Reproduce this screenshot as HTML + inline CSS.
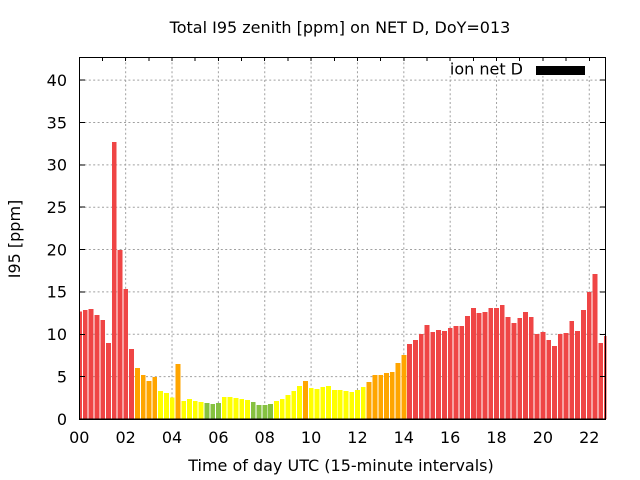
<!DOCTYPE html>
<html>
<head>
<meta charset="utf-8">
<style>
html,body{margin:0;padding:0;background:#fff;}
svg{display:block;}
text{font-family:"DejaVu Sans","Liberation Sans",sans-serif;font-size:16px;fill:#000;}
</style>
</head>
<body>
<svg width="640" height="480" viewBox="0 0 640 480" xmlns="http://www.w3.org/2000/svg">
<defs>
<clipPath id="plot"><rect x="79.5" y="57" width="527" height="362"/></clipPath>
</defs>
<rect x="0" y="0" width="640" height="480" fill="#fff"/>
<g stroke="#a0a0a0" stroke-width="1" stroke-dasharray="2,2.4" fill="none">
<line x1="80" y1="376.64" x2="605" y2="376.64"/>
<line x1="80" y1="334.28" x2="605" y2="334.28"/>
<line x1="80" y1="291.92" x2="605" y2="291.92"/>
<line x1="80" y1="249.56" x2="605" y2="249.56"/>
<line x1="80" y1="207.2" x2="605" y2="207.2"/>
<line x1="80" y1="164.84" x2="605" y2="164.84"/>
<line x1="80" y1="122.48" x2="605" y2="122.48"/>
<line x1="80" y1="80.12" x2="605" y2="80.12"/>
<line x1="125.66" y1="58" x2="125.66" y2="419"/>
<line x1="172.02" y1="58" x2="172.02" y2="419"/>
<line x1="218.38" y1="58" x2="218.38" y2="419"/>
<line x1="264.74" y1="58" x2="264.74" y2="419"/>
<line x1="311.1" y1="58" x2="311.1" y2="419"/>
<line x1="357.46" y1="58" x2="357.46" y2="419"/>
<line x1="403.82" y1="58" x2="403.82" y2="419"/>
<line x1="450.18" y1="58" x2="450.18" y2="419"/>
<line x1="496.54" y1="58" x2="496.54" y2="419"/>
<line x1="542.9" y1="58" x2="542.9" y2="419"/>
<line x1="589.26" y1="58" x2="589.26" y2="419"/>
</g>
<rect x="440" y="58" width="165" height="18" fill="#fff"/>
<g clip-path="url(#plot)">
<g transform="translate(77.1,419) scale(5.792,-8.4725)" shape-rendering="crispEdges">
<g fill="#ef4545">
<rect x="0" y="0" width="0.83" height="12.67"/>
<rect x="1" y="0" width="0.83" height="12.87"/>
<rect x="2" y="0" width="0.83" height="12.99"/>
<rect x="3" y="0" width="0.83" height="12.28"/>
<rect x="4" y="0" width="0.83" height="11.69"/>
<rect x="5" y="0" width="0.83" height="8.97"/>
<rect x="6" y="0" width="0.83" height="32.7"/>
<rect x="7" y="0" width="0.83" height="19.95"/>
<rect x="8" y="0" width="0.83" height="15.35"/>
<rect x="9" y="0" width="0.83" height="8.26"/>
<rect x="57" y="0" width="0.83" height="8.85"/>
<rect x="58" y="0" width="0.83" height="9.33"/>
<rect x="59" y="0" width="0.83" height="10.04"/>
<rect x="60" y="0" width="0.83" height="11.1"/>
<rect x="61" y="0" width="0.83" height="10.27"/>
<rect x="62" y="0" width="0.83" height="10.51"/>
<rect x="63" y="0" width="0.83" height="10.39"/>
<rect x="64" y="0" width="0.83" height="10.74"/>
<rect x="65" y="0" width="0.83" height="10.98"/>
<rect x="66" y="0" width="0.83" height="10.98"/>
<rect x="67" y="0" width="0.83" height="12.16"/>
<rect x="68" y="0" width="0.83" height="13.1"/>
<rect x="69" y="0" width="0.83" height="12.51"/>
<rect x="70" y="0" width="0.83" height="12.63"/>
<rect x="71" y="0" width="0.83" height="13.1"/>
<rect x="72" y="0" width="0.83" height="13.1"/>
<rect x="73" y="0" width="0.83" height="13.46"/>
<rect x="74" y="0" width="0.83" height="12.04"/>
<rect x="75" y="0" width="0.83" height="11.33"/>
<rect x="76" y="0" width="0.83" height="11.92"/>
<rect x="77" y="0" width="0.83" height="12.63"/>
<rect x="78" y="0" width="0.83" height="12.04"/>
<rect x="79" y="0" width="0.83" height="10.04"/>
<rect x="80" y="0" width="0.83" height="10.27"/>
<rect x="81" y="0" width="0.83" height="9.33"/>
<rect x="82" y="0" width="0.83" height="8.62"/>
<rect x="83" y="0" width="0.83" height="10.04"/>
<rect x="84" y="0" width="0.83" height="10.15"/>
<rect x="85" y="0" width="0.83" height="11.57"/>
<rect x="86" y="0" width="0.83" height="10.39"/>
<rect x="87" y="0" width="0.83" height="12.87"/>
<rect x="88" y="0" width="0.83" height="14.99"/>
<rect x="89" y="0" width="0.83" height="17.12"/>
<rect x="90" y="0" width="0.83" height="8.97"/>
<rect x="91" y="0" width="0.83" height="9.8"/>
</g>
<g fill="#ffa500">
<rect x="10" y="0" width="0.83" height="6.02"/>
<rect x="11" y="0" width="0.83" height="5.19"/>
<rect x="12" y="0" width="0.83" height="4.48"/>
<rect x="13" y="0" width="0.83" height="4.95"/>
<rect x="17" y="0" width="0.83" height="6.49"/>
<rect x="39" y="0" width="0.83" height="4.48"/>
<rect x="50" y="0" width="0.83" height="4.37"/>
<rect x="51" y="0" width="0.83" height="5.19"/>
<rect x="52" y="0" width="0.83" height="5.19"/>
<rect x="53" y="0" width="0.83" height="5.43"/>
<rect x="54" y="0" width="0.83" height="5.55"/>
<rect x="55" y="0" width="0.83" height="6.61"/>
<rect x="56" y="0" width="0.83" height="7.56"/>
</g>
<g fill="#ffff00">
<rect x="14" y="0" width="0.83" height="3.3"/>
<rect x="15" y="0" width="0.83" height="3.07"/>
<rect x="16" y="0" width="0.83" height="2.52"/>
<rect x="18" y="0" width="0.83" height="2.13"/>
<rect x="19" y="0" width="0.83" height="2.36"/>
<rect x="20" y="0" width="0.83" height="2.13"/>
<rect x="21" y="0" width="0.83" height="2.01"/>
<rect x="25" y="0" width="0.83" height="2.6"/>
<rect x="26" y="0" width="0.83" height="2.6"/>
<rect x="27" y="0" width="0.83" height="2.48"/>
<rect x="28" y="0" width="0.83" height="2.36"/>
<rect x="29" y="0" width="0.83" height="2.24"/>
<rect x="34" y="0" width="0.83" height="2.13"/>
<rect x="35" y="0" width="0.83" height="2.36"/>
<rect x="36" y="0" width="0.83" height="2.83"/>
<rect x="37" y="0" width="0.83" height="3.3"/>
<rect x="38" y="0" width="0.83" height="3.9"/>
<rect x="40" y="0" width="0.83" height="3.66"/>
<rect x="41" y="0" width="0.83" height="3.54"/>
<rect x="42" y="0" width="0.83" height="3.78"/>
<rect x="43" y="0" width="0.83" height="3.9"/>
<rect x="44" y="0" width="0.83" height="3.42"/>
<rect x="45" y="0" width="0.83" height="3.42"/>
<rect x="46" y="0" width="0.83" height="3.3"/>
<rect x="47" y="0" width="0.83" height="3.19"/>
<rect x="48" y="0" width="0.83" height="3.42"/>
<rect x="49" y="0" width="0.83" height="3.78"/>
</g>
<g fill="#86c140">
<rect x="22" y="0" width="0.83" height="1.89"/>
<rect x="23" y="0" width="0.83" height="1.77"/>
<rect x="24" y="0" width="0.83" height="1.89"/>
<rect x="30" y="0" width="0.83" height="2.0"/>
<rect x="31" y="0" width="0.83" height="1.65"/>
<rect x="32" y="0" width="0.83" height="1.65"/>
<rect x="33" y="0" width="0.83" height="1.77"/>
</g>
</g>
</g>
<g stroke="#000" stroke-width="1" shape-rendering="crispEdges">
<line x1="80" y1="376.64" x2="85" y2="376.64"/>
<line x1="80" y1="334.28" x2="85" y2="334.28"/>
<line x1="80" y1="291.92" x2="85" y2="291.92"/>
<line x1="80" y1="249.56" x2="85" y2="249.56"/>
<line x1="80" y1="207.2" x2="85" y2="207.2"/>
<line x1="80" y1="164.84" x2="85" y2="164.84"/>
<line x1="80" y1="122.48" x2="85" y2="122.48"/>
<line x1="80" y1="80.12" x2="85" y2="80.12"/>
<line x1="600" y1="376.64" x2="605" y2="376.64"/>
<line x1="600" y1="334.28" x2="605" y2="334.28"/>
<line x1="600" y1="291.92" x2="605" y2="291.92"/>
<line x1="600" y1="249.56" x2="605" y2="249.56"/>
<line x1="600" y1="207.2" x2="605" y2="207.2"/>
<line x1="600" y1="164.84" x2="605" y2="164.84"/>
<line x1="600" y1="122.48" x2="605" y2="122.48"/>
<line x1="600" y1="80.12" x2="605" y2="80.12"/>
<line x1="102.48" y1="57" x2="102.48" y2="61"/>
<line x1="125.66" y1="57" x2="125.66" y2="61"/>
<line x1="148.84" y1="57" x2="148.84" y2="61"/>
<line x1="172.02" y1="57" x2="172.02" y2="61"/>
<line x1="195.2" y1="57" x2="195.2" y2="61"/>
<line x1="218.38" y1="57" x2="218.38" y2="61"/>
<line x1="241.56" y1="57" x2="241.56" y2="61"/>
<line x1="264.74" y1="57" x2="264.74" y2="61"/>
<line x1="287.92" y1="57" x2="287.92" y2="61"/>
<line x1="311.1" y1="57" x2="311.1" y2="61"/>
<line x1="334.28" y1="57" x2="334.28" y2="61"/>
<line x1="357.46" y1="57" x2="357.46" y2="61"/>
<line x1="380.64" y1="57" x2="380.64" y2="61"/>
<line x1="403.82" y1="57" x2="403.82" y2="61"/>
<line x1="427" y1="57" x2="427" y2="61"/>
<line x1="450.18" y1="57" x2="450.18" y2="61"/>
<line x1="473.36" y1="57" x2="473.36" y2="61"/>
<line x1="496.54" y1="57" x2="496.54" y2="61"/>
<line x1="519.72" y1="57" x2="519.72" y2="61"/>
<line x1="542.9" y1="57" x2="542.9" y2="61"/>
<line x1="566.08" y1="57" x2="566.08" y2="61"/>
<line x1="589.26" y1="57" x2="589.26" y2="61"/>
</g>
<rect x="79.5" y="57.5" width="526" height="361.5" fill="none" stroke="#000" stroke-width="1" shape-rendering="crispEdges"/>
<line x1="79" y1="419.5" x2="606" y2="419.5" stroke="#000" stroke-width="1" shape-rendering="crispEdges"/>
<text x="523" y="74.5" text-anchor="end">ion net D</text>
<rect x="536" y="66" width="49" height="9" fill="#000"/>
<g text-anchor="end">
<text x="67" y="424.8">0</text>
<text x="67" y="382.4">5</text>
<text x="67" y="340.1">10</text>
<text x="67" y="297.7">15</text>
<text x="67" y="255.4">20</text>
<text x="67" y="213">25</text>
<text x="67" y="170.6">30</text>
<text x="67" y="128.3">35</text>
<text x="67" y="85.9">40</text>
</g>
<g text-anchor="middle">
<text x="79.3" y="443">00</text>
<text x="125.66" y="443">02</text>
<text x="172.02" y="443">04</text>
<text x="218.38" y="443">06</text>
<text x="264.74" y="443">08</text>
<text x="311.1" y="443">10</text>
<text x="357.46" y="443">12</text>
<text x="403.82" y="443">14</text>
<text x="450.18" y="443">16</text>
<text x="496.54" y="443">18</text>
<text x="542.9" y="443">20</text>
<text x="589.26" y="443">22</text>
</g>
<text x="340" y="33" text-anchor="middle">Total I95 zenith [ppm] on NET D, DoY=013</text>
<text x="341" y="471" text-anchor="middle">Time of day UTC (15-minute intervals)</text>
<text transform="translate(20,239) rotate(-90)" text-anchor="middle">I95 [ppm]</text>
</svg>
</body>
</html>
